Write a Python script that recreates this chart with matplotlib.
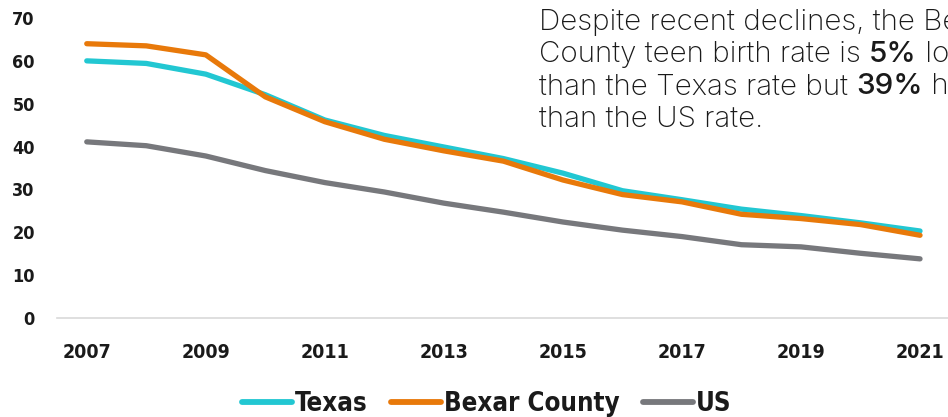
import matplotlib
matplotlib.use("Agg")
import matplotlib.pyplot as plt
from matplotlib import font_manager as fm

years = list(range(2007, 2022))
texas = [60.0, 59.4, 56.9, 52.1, 46.2, 42.6, 39.9, 37.2, 33.8, 29.7, 27.6, 25.4, 23.9, 22.2, 20.3]
bexar = [64.0, 63.5, 61.4, 51.6, 45.8, 41.7, 39.0, 36.6, 32.2, 28.8, 27.1, 24.2, 23.2, 21.8, 19.3]
us = [41.1, 40.2, 37.8, 34.4, 31.6, 29.4, 26.8, 24.7, 22.4, 20.5, 19.0, 17.1, 16.6, 15.1, 13.8]
series_names = ["Texas", "Bexar County", "US"]
colors = ["#22C7D2", "#E8790A", "#77787C"]
x_ticks = [2007, 2009, 2011, 2013, 2015, 2017, 2019, 2021]
y_ticks = [0, 10, 20, 30, 40, 50, 60, 70]

note_lines = [
    [("Despite recent declines, the Bexar", "light")],
    [("County teen birth rate is ", "light"), ("5%", "medium"), (" lower", "light")],
    [("than the Texas rate but ", "light"), ("39%", "medium"), (" higher", "light")],
    [("than the US rate.", "light")],
]

cond = [f for f in fm.fontManager.ttflist if "Condensed" in f.fname and "Bold" in f.fname
        and "DejaVu" in f.fname and "Oblique" not in f.fname]
if cond:
    tick_fp = dict(fname=cond[0].fname)
else:
    tick_fp = dict(family="DejaVu Sans", weight="bold", stretch="condensed")

def fp(size):
    return fm.FontProperties(size=size, **tick_fp)

W, H = 948, 417
fig = plt.figure(figsize=(W / 100, H / 100), dpi=100)
ax = fig.add_axes([57 / W, 1 - 318 / H, 1 - 57 / W, (318 - 18) / H])

for vals, name, c in zip([texas, bexar, us], series_names, colors):
    ax.plot(years, vals, color=c, lw=3.8, solid_capstyle="round",
            solid_joinstyle="round", label=name, clip_on=False)

ax.set_xlim(2006.5, 2021.47)
ax.set_ylim(0, 70)
ax.set_xticks(x_ticks)
ax.set_yticks(y_ticks)
for s in ["top", "right", "left"]:
    ax.spines[s].set_visible(False)
ax.spines["bottom"].set_color("#D9D9D9")
ax.spines["bottom"].set_linewidth(1.2)
ax.tick_params(length=0)
ax.tick_params(axis="y", pad=16)
ax.tick_params(axis="x", pad=18)
for lab in ax.get_xticklabels():
    lab.set_fontproperties(fp(14))
    lab.set_color("#1a1a1a")
for lab in ax.get_yticklabels():
    lab.set_fontproperties(fp(13))
    lab.set_color("#1a1a1a")

leg = fig.legend(loc="center", bbox_to_anchor=(487 / W, 1 - 404 / H), ncol=3,
                 frameon=False, handlelength=1.95, handletextpad=0.12,
                 columnspacing=0.9, prop=fp(18.5))
for t in leg.get_texts():
    t.set_color("#1a1a1a")
for h in leg.get_lines():
    h.set_linewidth(4.2)

# annotation with mixed weights
fig.canvas.draw()
renderer = fig.canvas.get_renderer()
x0 = 539
baselines = [29.5, 62, 94.5, 127]
for segs, yb in zip(note_lines, baselines):
    xp = x0
    for txt, wt in segs:
        t = fig.text(xp / W, 1 - yb / H, txt, fontsize=21.3, family=["Inter", "DejaVu Sans"],
                     fontweight=wt, color="#1a1a1a", va="baseline", ha="left")
        bb = t.get_window_extent(renderer=renderer)
        xp += bb.width

fig.savefig("out.png", dpi=100)
